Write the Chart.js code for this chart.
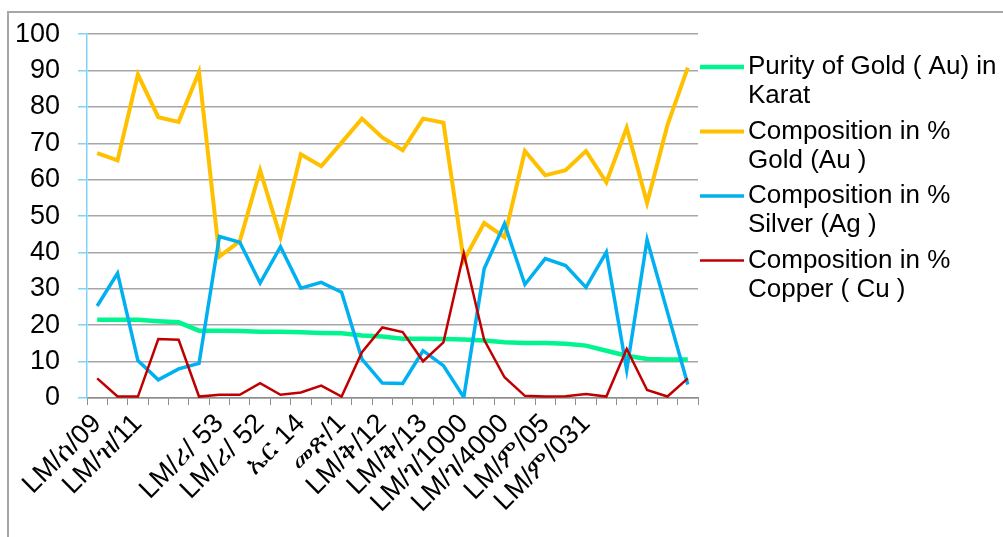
<!DOCTYPE html>
<html lang="en">
<head>
<meta charset="UTF-8">
<title>Gold purity and composition</title>
<script src="https://cdn.jsdelivr.net/npm/chart.js"></script>
<style>
    body { margin: 0; background: #fff; }
    /* marco gris del gráfico (solo arriba e izquierda se ven) */
    #marco {
        position: absolute; left: 7px; top: 11px; width: 1100px; height: 600px;
        border-top: 2px solid #a6a6a6; border-left: 2px solid #a6a6a6;
    }
    #caja { position: absolute; left: 0; top: 0; width: 1003px; height: 537px; }
</style>
</head>
<body>
<div id="marco"></div>
<div id="caja"><canvas id="grafico"></canvas></div>
<script>
// categorias (las impares no tienen etiqueta visible)
const muestras = [
    'LM/ሰ/09', '', 'LM/ዝ/11', '', '', '', 'LM/ሪ/ 53', '', 'LM/ሪ/ 52', '',
    'ኤር 14', '', 'መጽ/1', '', 'LM/ቅ/12', '', 'LM/ቅ/13', '', 'LM/ገ/1000', '',
    'LM/ገ/4000', '', 'LM/ም/05', '', 'LM/ም/031', '', '', '', '', ''
];
const pureza = [21.5, 21.5, 21.5, 21.1, 20.8, 18.5, 18.5, 18.4, 18.2, 18.2, 18.1, 17.9, 17.8, 17.2, 16.9,
                16.3, 16.3, 16.2, 16.1, 15.8, 15.3, 15.1, 15.1, 14.9, 14.4, 13.0, 11.6, 10.7, 10.6, 10.6];
const oro = [67.3, 65.3, 88.9, 77.2, 75.9, 89.6, 38.9, 43.1, 62.6, 44.2, 67.0, 63.7, 70.2, 76.8, 71.6,
             68.1, 76.8, 75.7, 37.8, 48.1, 44.2, 67.9, 61.2, 62.6, 67.9, 59.3, 74.3, 53.6, 75.0, 90.8];
const plata = [25.3, 34.3, 10.3, 5.0, 8.0, 9.5, 44.4, 42.8, 31.6, 41.6, 30.2, 31.8, 29.1, 10.7, 4.1,
               4.0, 13.0, 8.9, 0.2, 35.5, 47.9, 31.2, 38.3, 36.4, 30.4, 40.1, 7.7, 43.5, 23.6, 3.7];
const cobre = [5.4, 0.4, 0.4, 16.2, 16.0, 0.4, 0.9, 0.9, 4.1, 0.9, 1.5, 3.4, 0.4, 12.6, 19.4,
               18.1, 10.1, 15.3, 39.8, 16.0, 5.7, 0.6, 0.4, 0.5, 1.1, 0.4, 13.5, 2.2, 0.4, 5.4];
const ticksY = [0, 10, 20, 30, 40, 50, 60, 70, 80, 90, 100];

const fuente = "'Liberation Sans', Arial, sans-serif";

// leyenda a la derecha con texto en dos lineas
const leyendaDerecha = {
    id: 'leyendaDerecha',
    afterDraw(chart) {
        const ctx = chart.ctx;
        ctx.save();
        ctx.font = '26px ' + fuente;
        ctx.fillStyle = '#000';
        ctx.textBaseline = 'middle';
        chart.data.datasets.forEach((ds, i) => {
            const y = 67 + i * 64.5;
            ctx.strokeStyle = ds.borderColor;
            ctx.lineWidth = ds.borderWidth;
            ctx.beginPath();
            ctx.moveTo(700, y);
            ctx.lineTo(744, y);
            ctx.stroke();
            ds.lineas.forEach((t, j) => ctx.fillText(t, 748, y + j * 29));
        });
        ctx.restore();
    }
};

const ctx = document.getElementById('grafico').getContext('2d');
const grafico = new Chart(ctx, {
    type: 'line',
    data: {
        labels: muestras,
        datasets: [
            { label: 'Purity of Gold ( Au) in Karat', lineas: ['Purity of Gold ( Au) in', 'Karat'],
              data: pureza, borderColor: '#00F58F', borderWidth: 4.5, order: 4 },
            { label: 'Composition in % Gold (Au )', lineas: ['Composition in %', 'Gold (Au )'],
              data: oro, borderColor: '#FFC000', borderWidth: 4, order: 3 },
            { label: 'Composition in % Silver (Ag )', lineas: ['Composition in %', 'Silver (Ag )'],
              data: plata, borderColor: '#00B0F0', borderWidth: 3.5, order: 2 },
            { label: 'Composition in % Copper ( Cu )', lineas: ['Composition in %', 'Copper ( Cu )'],
              data: cobre, borderColor: '#C00000', borderWidth: 2.5, order: 1 }
        ]
    },
    options: {
        responsive: true,
        maintainAspectRatio: false,
        animation: false,
        elements: { point: { radius: 0 }, line: { tension: 0, fill: false } },
        layout: { padding: { left: 15, top: 20, right: 305, bottom: 15 } },
        plugins: { legend: { display: false }, tooltip: { enabled: false } },
        scales: {
            x: {
                offset: true,
                afterFit: (s) => { s.paddingLeft = 0; },
                grid: { drawOnChartArea: false, offset: true, color: '#8c8c8c', tickLength: 7 },
                border: { color: '#8c8c8c', width: 1.5 },
                ticks: {
                    autoSkip: false, minRotation: 45, maxRotation: 45, padding: 3,
                    color: '#000', font: { family: fuente, size: 27 },
                    callback: (v, i) => muestras[i]
                }
            },
            y: {
                min: 0, max: 100,
                afterBuildTicks: (ax) => { ax.ticks = ticksY.map(v => ({ value: v })); },
                afterFit: (s) => { s.width = 72; },
                grid: { color: '#a6a6a6', tickColor: '#7fd3f5', tickLength: 9, lineWidth: 1.5 },
                border: { color: '#7fd3f5', width: 1.5 },
                ticks: { padding: 18, color: '#000', font: { family: fuente, size: 27 } }
            }
        }
    },
    plugins: [leyendaDerecha]
});
</script>
</body>
</html>
